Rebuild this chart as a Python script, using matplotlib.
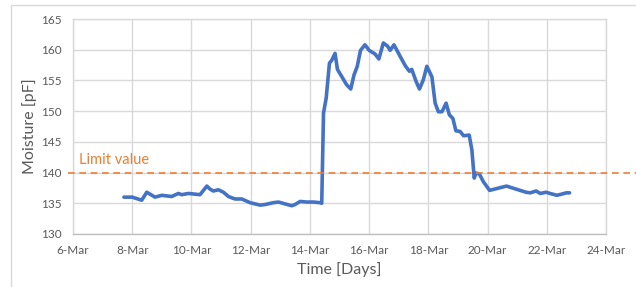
import matplotlib.pyplot as plt
from matplotlib.patches import Rectangle
import numpy as np

# -----------------------------
# Data (day of March, moisture in pF)
# -----------------------------

days = [7.72, 8.0, 8.32, 8.49, 8.77, 9.0, 9.33, 9.56, 9.67, 9.9, 10.29, 10.52,
        10.63, 10.74, 10.91, 11.08, 11.25, 11.47, 11.70, 11.98, 12.32, 12.49,
        12.77, 12.94, 13.16, 13.39, 13.5, 13.67, 13.9, 14.12, 14.34, 14.40,
        14.46, 14.55, 14.66, 14.74, 14.85, 14.93, 15.08, 15.24, 15.38, 15.49,
        15.6, 15.71, 15.86, 16.0, 16.2, 16.33, 16.48, 16.62, 16.71, 16.84,
        17.05, 17.22, 17.36, 17.44, 17.59, 17.70, 17.83, 17.95, 18.12, 18.23,
        18.34, 18.46, 18.60, 18.71, 18.83, 18.93, 19.07, 19.19, 19.38, 19.47,
        19.55, 19.61, 19.72, 19.86, 20.07, 20.31, 20.64, 20.9, 21.3, 21.44,
        21.64, 21.78, 21.98, 22.11, 22.34, 22.51, 22.66, 22.77]

moisture = [136.0, 136.0, 135.5, 136.8, 136.0, 136.3, 136.1, 136.6, 136.4, 136.6,
            136.4, 137.8, 137.3, 137.0, 137.2, 136.8, 136.1, 135.7, 135.7, 135.1,
            134.7, 134.8, 135.1, 135.2, 134.9, 134.6, 134.8, 135.3, 135.2, 135.2,
            135.1, 135.0, 149.7, 152.1, 157.8, 158.3, 159.4, 156.8, 155.6, 154.3,
            153.6, 155.9, 157.3, 159.9, 160.8, 159.9, 159.3, 158.5, 161.1, 160.6,
            159.9, 160.8, 158.9, 157.4, 156.5, 156.8, 154.8, 153.6, 155.1, 157.3,
            155.6, 151.3, 149.9, 149.9, 151.3, 149.4, 148.8, 146.8, 146.7, 146.0,
            146.1, 143.7, 139.1, 139.9, 139.8, 138.5, 137.1, 137.4, 137.8, 137.4,
            136.8, 136.7, 137.0, 136.6, 136.8, 136.6, 136.3, 136.5, 136.7, 136.7]

limit_value = 140
x_ticks = [6, 8, 10, 12, 14, 16, 18, 20, 22, 24]
x_labels = [f"{d}-Mar" for d in x_ticks]
y_ticks = [130, 135, 140, 145, 150, 155, 160, 165]

# -----------------------------
# Plot
# -----------------------------

plt.rcParams["font.family"] = ["Lato", "DejaVu Sans"]
text_color = "#595959"
grid_color = "#D9D9D9"

fig = plt.figure(figsize=(6.36, 2.87), dpi=100)
fig.patches.append(Rectangle((11 / 636, -0.1), 1.1, (287 - 5) / 287 + 0.1,
                             transform=fig.transFigure, fill=False,
                             edgecolor=grid_color, linewidth=1))

ax = fig.add_axes([73 / 636, 53 / 287, 533 / 636, 215 / 287])

ax.plot(days, moisture, color="#4472C4", linewidth=2.6, solid_joinstyle="round",
        solid_capstyle="round", zorder=3)

# limit line sticks out of the plot area, like a drawn shape
ax.plot([-0.01, 1.06], [limit_value, limit_value], color="#ED7D31",
        linewidth=1.2, linestyle=(0, (4, 2.8)), clip_on=False,
        transform=ax.get_yaxis_transform(), zorder=4)
ax.text(6.2, 140.9, "Limit value", color="#ED7D31", fontsize=10.5,
        ha="left", va="bottom")

ax.set_xlim(6, 24)
ax.set_ylim(130, 165)
ax.set_xticks(x_ticks)
ax.set_xticklabels(x_labels)
ax.set_yticks(y_ticks)

ax.grid(True, color=grid_color, linewidth=1)
ax.set_axisbelow(True)
for name, spine in ax.spines.items():
    spine.set_color(grid_color)
    spine.set_linewidth(1)
ax.spines["bottom"].set_color("#BFBFBF")

ax.tick_params(length=0, labelsize=8.5, colors=text_color, pad=8)
ax.set_xlabel("Time [Days]", fontsize=11.5, color=text_color, labelpad=4)
ax.set_ylabel("Moisture [pF]", fontsize=11.5, color=text_color, labelpad=3)

plt.savefig("out.png", dpi=100)
